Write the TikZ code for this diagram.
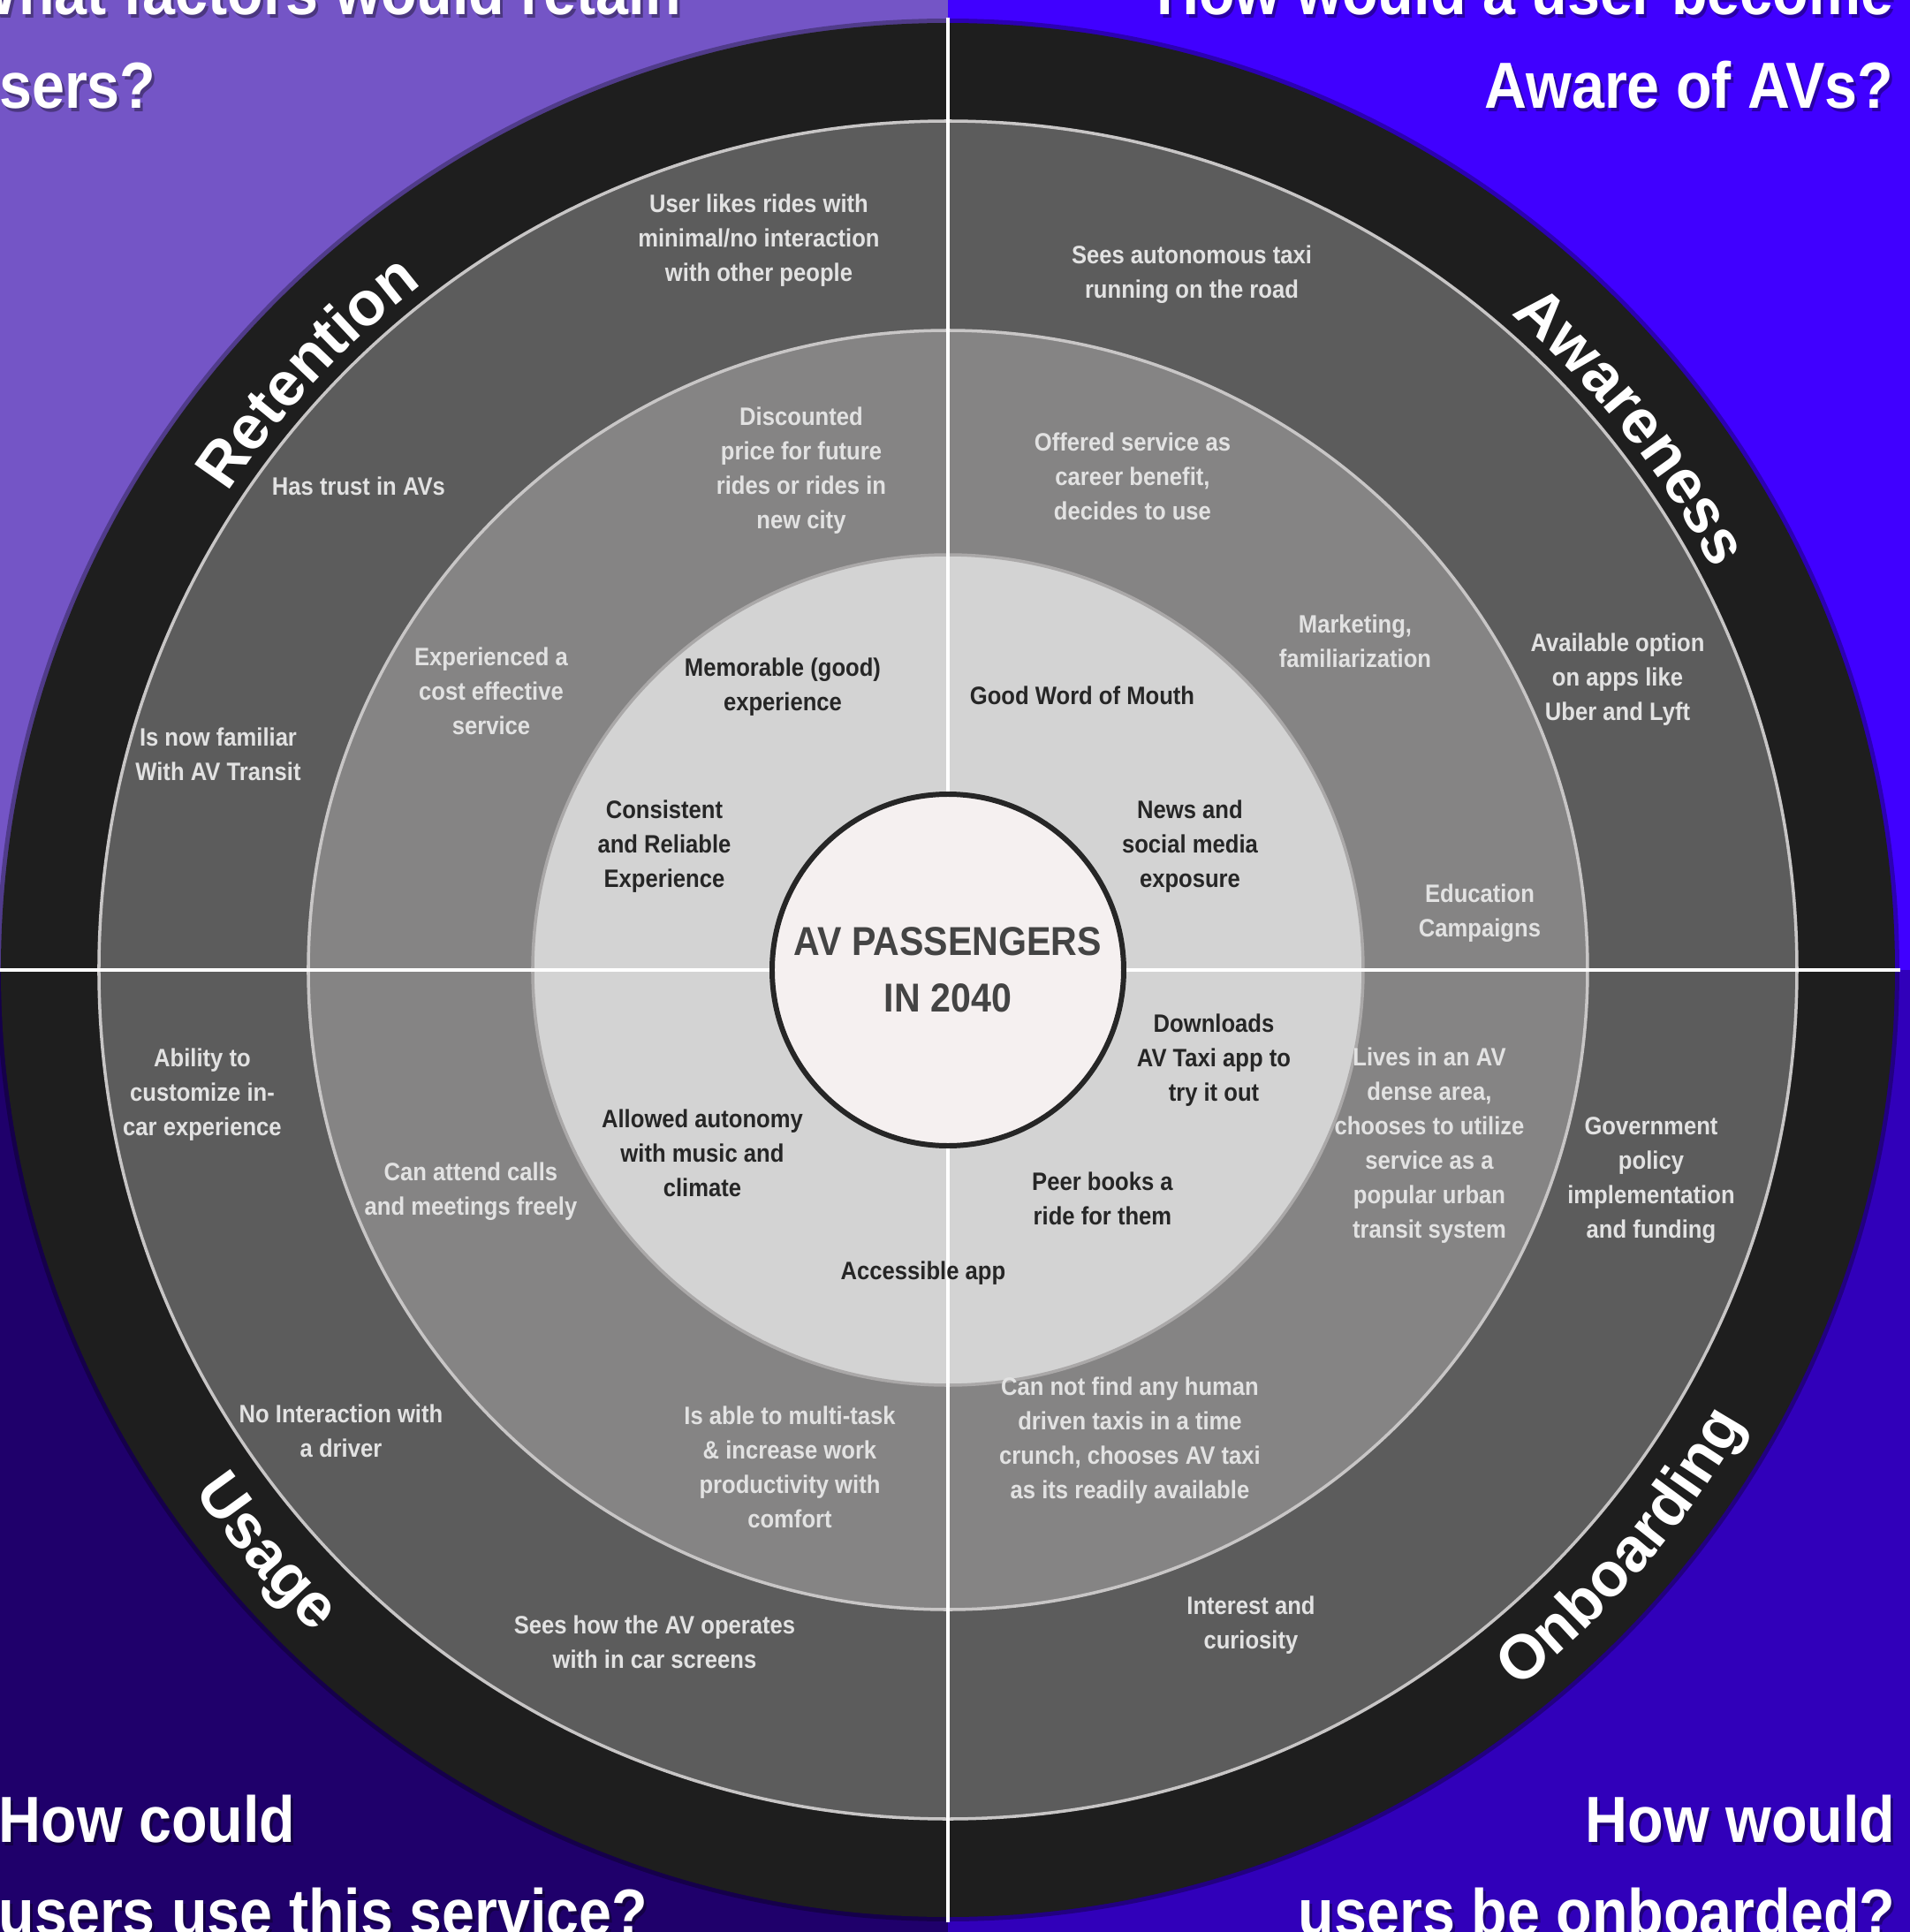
\documentclass[tikz,border=0pt]{standalone}
\usepackage{fontspec}
\usepackage{xcolor}
\usepackage{tikz}
\usetikzlibrary{decorations.text}

\newfontfamily\labfont[FakeStretch=0.9]{Liberation Sans}
\newfontfamily\ringfont{Liberation Sans}

\definecolor{bgpurple}{HTML}{7455C6}
\definecolor{bgblue}{HTML}{4000FF}
\definecolor{bgnavy}{HTML}{1F006B}
\definecolor{bgindigo}{HTML}{3100BA}
\definecolor{ringblack}{HTML}{1E1E1E}
\definecolor{ringdark}{HTML}{5C5C5C}
\definecolor{ringmid}{HTML}{858484}
\definecolor{ringlight}{HTML}{D3D3D3}
\definecolor{hubfill}{HTML}{F5F0F0}
\definecolor{edgegray}{HTML}{C8C6C6}
\definecolor{textlight}{HTML}{E2E2E2}
\definecolor{textdark}{HTML}{262626}
\definecolor{hubtext}{HTML}{444444}

\begin{document}
\begin{tikzpicture}[
    lightlab/.style={align=center, text=textlight, inner sep=0pt, font=\labfont\bfseries\fontsize{8.1}{11.1}\selectfont},
    darklab/.style={lightlab, text=textdark},
    question/.style={text=white, inner sep=0pt, font=\labfont\bfseries\fontsize{21}{30}\selectfont},
    qshadow/.style={question, text=black, opacity=0.35, xshift=0.03cm, yshift=-0.04cm},
    ring/.style={draw=edgegray, line width=1pt},
    ringlabel/.style={decorate, decoration={text along path, text align=center, text color=white,
        text={|\ringfont\bfseries\fontsize{20}{24}\selectfont|#1}}}
]
    \useasboundingbox (-10.73,-10.89) rectangle (10.89,10.98);
    \clip (-10.73,-10.89) rectangle (10.89,10.98);

    % Background quadrants
    \fill[bgpurple] (-10.73,0) rectangle (0,10.98);
    \fill[bgblue] (0,0) rectangle (10.89,10.98);
    \fill[bgnavy] (-10.73,-10.89) rectangle (0,0);
    \fill[bgindigo] (0,-10.89) rectangle (10.89,0);

    % Questions in the corners
    \node[qshadow, anchor=base west] (qtl1s) at (-11.15,10.81) {What factors would retain};
    \node[question, anchor=base west] (qtl1) at (-11.15,10.81) {What factors would retain};
    \node[qshadow, anchor=base west] (qtl2s) at (-11.15,9.75) {users?};
    \node[question, anchor=base west] (qtl2) at (-11.15,9.75) {users?};
    \node[qshadow, anchor=base east] (qtr1s) at (10.71,10.81) {How would a user become};
    \node[question, anchor=base east] (qtr1) at (10.71,10.81) {How would a user become};
    \node[qshadow, anchor=base east] (qtr2s) at (10.71,9.75) {Aware of AVs?};
    \node[question, anchor=base east] (qtr2) at (10.71,9.75) {Aware of AVs?};
    \node[qshadow, anchor=base west] (qbl1s) at (-10.75,-9.87) {How could};
    \node[question, anchor=base west] (qbl1) at (-10.75,-9.87) {How could};
    \node[qshadow, anchor=base west] (qbl2s) at (-10.75,-10.92) {users use this service?};
    \node[question, anchor=base west] (qbl2) at (-10.75,-10.92) {users use this service?};
    \node[qshadow, anchor=base east] (qbr1s) at (10.73,-9.87) {How would};
    \node[question, anchor=base east] (qbr1) at (10.73,-9.87) {How would};
    \node[qshadow, anchor=base east] (qbr2s) at (10.73,-10.92) {users be onboarded?};
    \node[question, anchor=base east] (qbr2) at (10.73,-10.92) {users be onboarded?};

    % Rings
    \fill[black, opacity=0.3] (0,0) circle (10.77);
    \fill[ringblack] (0,0) circle (10.72);
    \filldraw[ring, fill=ringdark] (0,0) circle (9.61);
    \filldraw[ring, fill=ringmid] (0,0) circle (7.24);
    \filldraw[ring, fill=ringlight, draw=edgegray!85!black] (0,0) circle (4.70);

    % Axes
    \draw[white, line width=1.4pt] (-10.78,0) -- (10.78,0);
    \draw[white, line width=1.4pt] (0,-10.78) -- (0,10.78);

    % Hub
    \node[circle, draw=textdark, line width=1.7pt, fill=hubfill, minimum size=3.98cm, inner sep=0pt,
          align=center, text=hubtext, font=\labfont\bfseries\fontsize{13}{18.2}\selectfont]
          (hub) at (0,0) {AV PASSENGERS\\IN 2040};

    % Stage names on the black ring
    \path[ringlabel=Retention] (177:9.78) arc[start angle=177, end angle=97, radius=9.78];
    \path[ringlabel=Awareness] (78.5:9.78) arc[start angle=78.5, end angle=-1.5, radius=9.78];
    \path[ringlabel=Onboarding] (-80.6:10.38) arc[start angle=-80.6, end angle=-0.6, radius=10.38];
    \path[ringlabel=Usage] (-179.5:10.38) arc[start angle=-179.5, end angle=-99.5, radius=10.38];

    % Retention
    \node[lightlab] (ret1) at (-2.14,8.26) {User likes rides with\\minimal/no interaction\\with other people};
    \node[lightlab] (ret2) at (-6.67,5.48) {Has trust in AVs};
    \node[lightlab] (ret3) at (-8.26,2.44) {Is now familiar\\With AV Transit};
    \node[lightlab] (ret4) at (-1.66,5.65) {Discounted\\price for future\\rides or rides in\\new city};
    \node[lightlab] (ret5) at (-5.17,3.16) {Experienced a\\cost effective\\service};
    \node[darklab] (ret6) at (-1.87,3.20) {Memorable (good)\\experience};
    \node[darklab] (ret7) at (-3.21,1.40) {Consistent\\and Reliable\\Experience};

    % Awareness
    \node[lightlab] (awa1) at (2.76,7.87) {Sees autonomous taxi\\running on the road};
    \node[lightlab] (awa2) at (2.09,5.59) {Offered service as\\career benefit,\\decides to use};
    \node[lightlab] (awa3) at (4.61,3.72) {Marketing,\\familiarization};
    \node[lightlab] (awa4) at (7.58,3.29) {Available option\\on apps like\\Uber and Lyft};
    \node[darklab] (awa5) at (1.52,3.11) {Good Word of Mouth};
    \node[darklab] (awa6) at (2.74,1.40) {News and\\social media\\exposure};
    \node[lightlab] (awa7) at (6.02,0.64) {Education\\Campaigns};

    % Onboarding
    \node[darklab] (onb1) at (3.01,-1.02) {Downloads\\AV Taxi app to\\try it out};
    \node[darklab] (onb2) at (1.75,-2.59) {Peer books a\\ride for them};
    \node[lightlab] (onb3) at (5.45,-1.99) {Lives in an AV\\dense area,\\chooses to utilize\\service as a\\popular urban\\transit system};
    \node[lightlab] (onb4) at (7.96,-2.38) {Government\\policy\\implementation\\and funding};
    \node[lightlab] (onb5) at (2.06,-5.33) {Can not find any human\\driven taxis in a time\\crunch, chooses AV taxi\\as its readily available};
    \node[lightlab] (onb6) at (3.43,-7.42) {Interest and\\curiosity};

    % Usage
    \node[lightlab] (use1) at (-8.44,-1.41) {Ability to\\customize in-\\car experience};
    \node[lightlab] (use2) at (-5.40,-2.51) {Can attend calls\\and meetings freely};
    \node[darklab] (use3) at (-2.78,-2.07) {Allowed autonomy\\with  music and\\climate};
    \node[darklab] (use4) at (-0.28,-3.43) {Accessible app};
    \node[lightlab] (use5) at (-6.87,-5.22) {No Interaction with\\a driver};
    \node[lightlab] (use6) at (-1.79,-5.63) {Is able to multi-task\\\& increase work\\productivity with\\comfort};
    \node[lightlab] (use7) at (-3.32,-7.61) {Sees how the AV operates\\with in car screens};
\end{tikzpicture}
\end{document}
